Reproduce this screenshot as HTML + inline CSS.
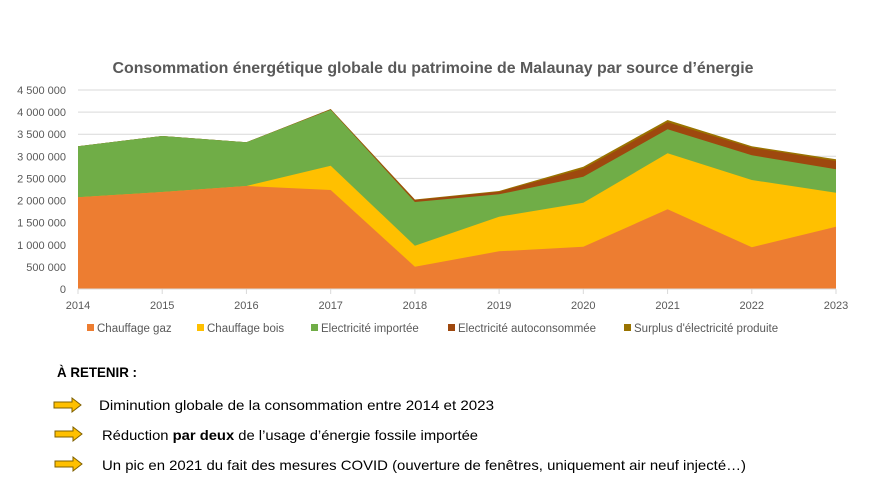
<!DOCTYPE html>
<html><head><meta charset="utf-8"><style>body{margin:0;background:#fff}svg{display:block}</style></head>
<body>
<svg width="874" height="491" viewBox="0 0 874 491" xmlns="http://www.w3.org/2000/svg" font-family="Liberation Sans, sans-serif">
<text x="433" y="73" text-anchor="middle" font-size="16" font-weight="bold" fill="#595959" textLength="641" lengthAdjust="spacingAndGlyphs">Consommation énergétique globale du patrimoine de Malaunay par source d’énergie</text>
<g stroke="#d9d9d9" stroke-width="1">
<line x1="78" x2="836" y1="90" y2="90"/><line x1="78" x2="836" y1="112.1" y2="112.1"/><line x1="78" x2="836" y1="134.2" y2="134.2"/><line x1="78" x2="836" y1="156.3" y2="156.3"/><line x1="78" x2="836" y1="178.4" y2="178.4"/><line x1="78" x2="836" y1="200.6" y2="200.6"/><line x1="78" x2="836" y1="222.7" y2="222.7"/><line x1="78" x2="836" y1="244.8" y2="244.8"/><line x1="78" x2="836" y1="266.9" y2="266.9"/>
</g>
<polygon fill="#997300" points="78,146.3 162.2,136 246.4,142.3 330.7,109 414.9,199.5 499.1,191 583.3,166.7 667.6,120 751.8,146.3 836,159.3 836,289 78,289"/>
<polygon fill="#9E480E" points="78,146.3 162.2,136 246.4,142.3 330.7,109.3 414.9,200 499.1,191.7 583.3,168.7 667.6,122.3 751.8,147.7 836,161 836,289 78,289"/>
<polygon fill="#70AD47" points="78,146.3 162.2,136 246.4,142.3 330.7,109.7 414.9,202 499.1,194.3 583.3,176.7 667.6,129.3 751.8,155.3 836,169.3 836,289 78,289"/>
<polygon fill="#FFC000" points="78,197.3 162.2,192 246.4,186 330.7,165.7 414.9,245.7 499.1,216.7 583.3,202.7 667.6,153.3 751.8,180 836,192.7 836,289 78,289"/>
<polygon fill="#ED7D31" points="78,197.3 162.2,192 246.4,186 330.7,190 414.9,266.7 499.1,251.3 583.3,246.7 667.6,209.3 751.8,247.3 836,226.7 836,289 78,289"/>
<line x1="78" x2="836" y1="289" y2="289" stroke="#d9d9d9"/>
<g stroke="#d9d9d9"><line x1="78" x2="78" y1="289" y2="294"/><line x1="162.2" x2="162.2" y1="289" y2="294"/><line x1="246.4" x2="246.4" y1="289" y2="294"/><line x1="330.7" x2="330.7" y1="289" y2="294"/><line x1="414.9" x2="414.9" y1="289" y2="294"/><line x1="499.1" x2="499.1" y1="289" y2="294"/><line x1="583.3" x2="583.3" y1="289" y2="294"/><line x1="667.6" x2="667.6" y1="289" y2="294"/><line x1="751.8" x2="751.8" y1="289" y2="294"/><line x1="836" x2="836" y1="289" y2="294"/></g>
<g font-size="11" fill="#595959" text-anchor="end">
<text x="66" y="94">4 500 000</text><text x="66" y="116.1">4 000 000</text><text x="66" y="138.2">3 500 000</text><text x="66" y="160.3">3 000 000</text><text x="66" y="182.4">2 500 000</text><text x="66" y="204.6">2 000 000</text><text x="66" y="226.7">1 500 000</text><text x="66" y="248.8">1 000 000</text><text x="66" y="270.9">500 000</text><text x="66" y="293">0</text>
</g>
<g font-size="11" fill="#595959" text-anchor="middle">
<text x="78" y="309">2014</text><text x="162.2" y="309">2015</text><text x="246.4" y="309">2016</text><text x="330.7" y="309">2017</text><text x="414.9" y="309">2018</text><text x="499.1" y="309">2019</text><text x="583.3" y="309">2020</text><text x="667.6" y="309">2021</text><text x="751.8" y="309">2022</text><text x="836" y="309">2023</text>
</g>
<g font-size="11.5" fill="#595959">
<rect x="87" y="324" width="7" height="7" fill="#ED7D31"/><text x="97" y="332">Chauffage gaz</text>
<rect x="197" y="324" width="7" height="7" fill="#FFC000"/><text x="207" y="332">Chauffage bois</text>
<rect x="311" y="324" width="7" height="7" fill="#70AD47"/><text x="321" y="332">Electricité importée</text>
<rect x="448" y="324" width="7" height="7" fill="#9E480E"/><text x="458" y="332">Electricité autoconsommée</text>
<rect x="624" y="324" width="7" height="7" fill="#997300"/><text x="634" y="332">Surplus d'électricité produite</text>
</g>
<text x="57" y="377" font-size="14" font-weight="bold" fill="#000" textLength="80" lengthAdjust="spacingAndGlyphs">À RETENIR :</text>
<g fill="#FFC000" stroke="#7f6000" stroke-width="1">
<polygon points="54,402 72,402 72,398 81,405 72,412 72,408 54,408"/>
<polygon points="55,431 73,431 73,427 82,434 73,441 73,437 55,437"/>
<polygon points="55,461 73,461 73,457 82,464 73,471 73,467 55,467"/>
</g>
<g font-size="14" fill="#000">
<text x="99" y="410" textLength="395" lengthAdjust="spacingAndGlyphs">Diminution globale de la consommation entre 2014 et 2023</text>
<text x="102" y="440" textLength="376" lengthAdjust="spacingAndGlyphs">Réduction <tspan font-weight="bold">par deux</tspan> de l’usage d’énergie fossile importée</text>
<text x="102" y="470" textLength="644" lengthAdjust="spacingAndGlyphs">Un pic en 2021 du fait des mesures COVID (ouverture de fenêtres, uniquement air neuf injecté…)</text>
</g>
</svg>
</body></html>
